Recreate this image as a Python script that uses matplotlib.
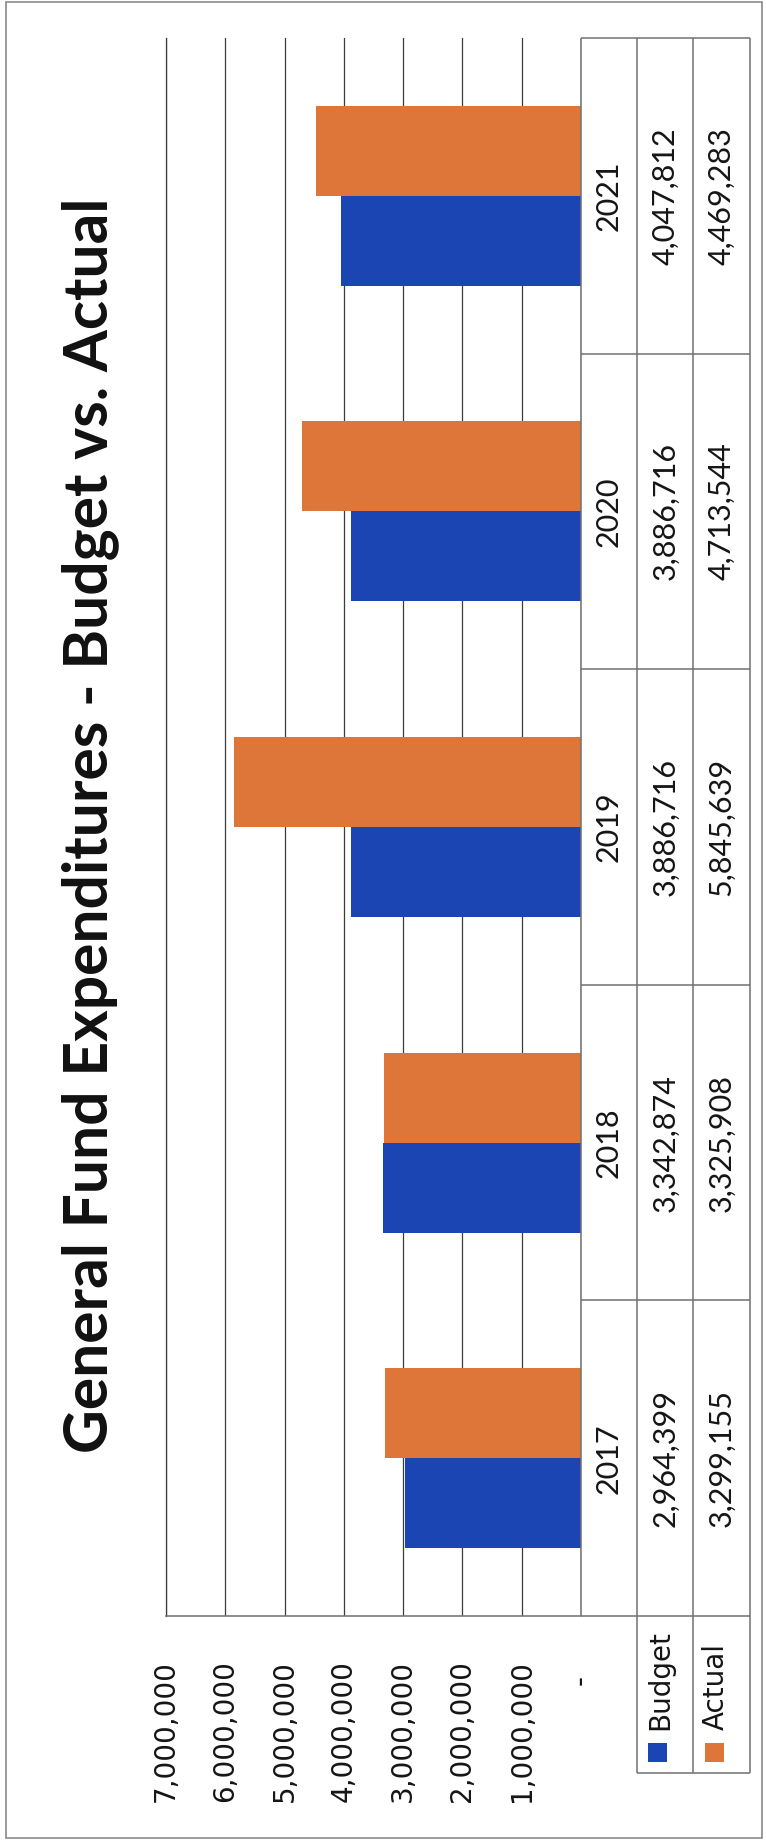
import matplotlib
matplotlib.use("Agg")
import matplotlib.pyplot as plt
import matplotlib.transforms as mtransforms
from matplotlib.patches import Rectangle
import numpy as np

# ---------------- data ----------------
years = ["2017", "2018", "2019", "2020", "2021"]
budget = [2964399, 3342874, 3886716, 3886716, 4047812]
actual = [3299155, 3325908, 5845639, 4713544, 4469283]
series_names = ["Budget", "Actual"]
tick_values = [0, 1000000, 2000000, 3000000, 4000000, 5000000, 6000000, 7000000]
title = "General Fund Expenditures - Budget vs. Actual"

# ---------------- style ----------------
BLUE = "#1B45B3"
ORANGE = "#DE763A"
GRID = "#3c3c3c"
TLINE = "#707070"
W, H = 766, 1845

fig = plt.figure(figsize=(W / 100, H / 100), dpi=100)
fig.patch.set_facecolor("white")


def fx(px):
    return px / W


def fy(py):
    return 1 - py / H


# outer border
fig.add_artist(Rectangle((fx(6), fy(1838)), fx(762) - fx(6), fy(2) - fy(1838),
                         transform=fig.transFigure, fill=False,
                         edgecolor="#8a8a8a", lw=1.2))

PX_L, PX_R = 166, 581      # pixel x of axis max (left) and zero (right)
PY_T, PY_B = 38, 1616      # plot top / bottom pixel y
n = len(years)

ax = fig.add_axes([fx(PX_L), fy(PY_B), fx(PX_R) - fx(PX_L), fy(PY_T) - fy(PY_B)])
ypos = np.arange(n)
h = 0.285
ax.barh(ypos - h / 2, budget, height=h, color=BLUE, zorder=3)
ax.barh(ypos + h / 2, actual, height=h, color=ORANGE, zorder=3)
ax.set_xlim(max(tick_values), 0)
ax.set_ylim(-0.5, n - 0.5)
ax.set_xticks(tick_values)
ax.set_yticks([])
ax.tick_params(axis="x", length=0, labelbottom=False)
ax.grid(axis="x", color=GRID, lw=0.9, zorder=1)
ax.spines["top"].set_visible(False)
ax.spines["right"].set_visible(False)
ax.spines["left"].set_color(GRID)
ax.spines["left"].set_linewidth(0.9)
ax.spines["bottom"].set_color(TLINE)
ax.spines["bottom"].set_linewidth(1.1)

# value axis labels (rotated)
xtrans = ax.get_xaxis_transform()
for v in tick_values:
    lab = f"{v:,}" if v else "-"
    off_px = 44 if v else 59
    tr = mtransforms.offset_copy(xtrans, fig=fig, x=0, y=-off_px * 72 / 100, units="points")
    ax.text(v, 0, lab, transform=tr, rotation=90, ha="center", va="top",
            fontsize=20, family="DejaVu Sans", color="#151515")

# ---------------- data table ----------------
PX_TAB_R = 749.5
PY_LEG = 1773
unit = (PY_B - PY_T) / n
ext = (PY_LEG - PY_B) / unit
tab = fig.add_axes([fx(PX_R), fy(PY_LEG), fx(PX_TAB_R) - fx(PX_R), fy(PY_T) - fy(PY_LEG)])
tab.set_xlim(0, 3)
tab.set_ylim(-0.5 - ext, n - 0.5)
tab.axis("off")
kw = dict(color=TLINE, lw=1.1, clip_on=False)
tab.vlines([0], -0.5, n - 0.5, **kw)
tab.vlines([1, 2, 3], -0.5 - ext, n - 0.5, **kw)
tab.hlines(np.arange(n + 1) - 0.5, 0, 3, **kw)
tab.hlines([-0.5 - ext], 1, 3, **kw)

rows = [years, [f"{v:,}" for v in budget], [f"{v:,}" for v in actual]]
for r, vals in enumerate(rows):
    for i, s in enumerate(vals):
        tab.text(r + 0.5, i, s, rotation=90, ha="center", va="center",
                 family="Lato", fontsize=22, color="#151515")

# legend keys inside the table row headers
for k, (name, col) in enumerate(zip(series_names, [BLUE, ORANGE])):
    xc = k + 1.5
    tab.text(xc - 0.095, -0.5 - 0.361, name, rotation=90, ha="center", va="bottom",
             family="DejaVu Sans", fontsize=20, color="#151515")
    tab.scatter([xc - 0.14], [-0.5 - 0.4325], marker="s", s=(19 * 0.72) ** 2,
                color=col, clip_on=False, linewidths=0)

# ---------------- title ----------------
t = fig.text(fx(90), fy(825), title, rotation=90, ha="center", va="center",
             fontsize=44, fontweight="bold", family="Lato", color="#111111")
fig.canvas.draw()
bb = t.get_window_extent()
t.set_fontsize(44 * 1255 / bb.height)

fig.savefig("out.png", dpi=100)
